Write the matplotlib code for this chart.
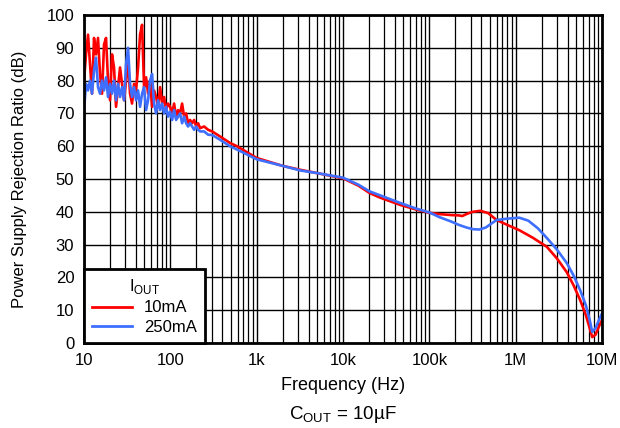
import numpy as np
import matplotlib
matplotlib.use('Agg')
import matplotlib.pyplot as plt
from matplotlib.lines import Line2D
from matplotlib.ticker import FixedLocator, LogLocator, NullFormatter

plt.rcParams['font.family'] = ['Liberation Sans', 'DejaVu Sans']

# low-frequency part, shared frequency points (Hz)
f_low = [10, 10.55, 11.13, 11.74, 12.38, 13.06, 13.77, 14.53, 15.33, 16.17,
         17.05, 17.99, 18.98, 20.02, 21.11, 22.27, 23.49, 24.78, 26.14, 27.58,
         29.09, 30.68, 32.37, 34.14, 36.01, 37.99, 40.07, 42.27, 44.59, 47.04,
         49.62, 52.34, 55.21, 58.24, 61.43, 64.8, 68.36, 72.1, 76.06, 80.23,
         84.63, 89.28, 94.17, 99.34, 104.8, 110.5, 116.6, 123, 129.7, 136.8,
         144.4, 152.3, 160.6, 169.4, 178.7, 188.5, 198.9, 209.8, 221.3, 246.2,
         274, 304.9]
psrr_10ma_low = [80, 88, 94, 85, 76, 93, 88, 93, 82, 76,
                 91, 93, 80, 74, 88, 84, 72, 78, 84, 79,
                 74, 80, 86, 76, 73, 79, 77, 84, 94, 97,
                 78, 81, 76, 80, 72, 77, 75, 72, 78, 73,
                 75, 71, 73, 72, 70, 73, 69, 71, 70, 73,
                 69, 70, 67, 68, 67, 68, 66, 67, 65.5, 66,
                 65, 64.5]
psrr_250ma_low = [71, 79, 77, 80, 76, 83, 87, 78, 76, 80,
                  77, 81, 75, 79, 76, 80, 74, 79, 75, 78,
                  74, 85, 90, 79, 75, 78, 74, 77, 72, 76,
                  78, 71, 74, 80, 82, 73, 70, 74, 71, 73,
                  70, 72, 69, 70.5, 68, 71, 68, 69, 70, 67,
                  69, 67, 66, 67, 66, 65, 66, 65, 64.5, 64.5,
                  63.5, 63.4]

# upper part, 10mA
f_10ma_high = [375, 490, 590, 1000, 2000, 3200, 5000, 10000, 15000, 20400,
               27000, 46000, 70000, 100000, 130000, 180000, 220000, 240000,
               280000, 320000, 390000, 480000, 600000, 800000, 1100000,
               1600000, 2300000, 3000000, 3900000, 4700000, 5600000, 6500000,
               7200000, 7700000, 8400000, 9200000, 10000000]
psrr_10ma_high = [63, 61, 60, 56.4, 54, 52.8, 51.8, 50.2, 48, 45.7,
                  44.3, 42.1, 40.7, 39.7, 39.3, 39, 38.9, 38.7,
                  39.5, 40, 40.3, 39.6, 37.5, 36, 34.4,
                  32, 29.3, 25.8, 21.6, 17.5, 13, 8.5,
                  4.5, 1.8, 2.5, 5, 7]

# upper part, 250mA
f_250ma_high = [375, 490, 590, 1000, 2000, 3200, 5000, 10000, 15000, 20400,
                27000, 46000, 70000, 100000, 130000, 180000, 220000, 270000,
                320000, 380000, 450000, 600000, 800000, 1100000, 1400000,
                1800000, 2300000, 3000000, 3900000, 4700000, 5600000, 6500000,
                7200000, 7700000, 8400000, 9200000, 10000000]
psrr_250ma_high = [62, 60, 59, 56, 54, 52.6, 51.8, 50.4, 48.3, 46.2,
                   45, 42.7, 41, 39.8, 38.4, 37, 36, 35.2,
                   34.7, 34.6, 35.2, 37.5, 37.9, 38.2, 37.3,
                   35, 32, 28.5, 24.4, 20.5, 16, 11.5,
                   7, 3.4, 4.5, 7, 9]

x_ticks = [10, 100, 1e3, 1e4, 1e5, 1e6, 1e7]
x_labels = ['10', '100', '1k', '10k', '100k', '1M', '10M']
y_ticks = [0, 10, 20, 30, 40, 50, 60, 70, 80, 90, 100]

red = '#ff0000'
blue = '#3f6fff'

fig = plt.figure(figsize=(6.2, 4.28), dpi=100)
ax = fig.add_axes([0.1355, 0.1986, 0.8355, 0.7664])

ax.semilogx(f_low + f_10ma_high, psrr_10ma_low + psrr_10ma_high,
            color=red, lw=1.9, zorder=3)
ax.semilogx(f_low + f_250ma_high, psrr_250ma_low + psrr_250ma_high,
            color=blue, lw=1.9, zorder=3)

ax.set_xlim(10, 1e7)
ax.set_ylim(0, 100)
ax.xaxis.set_major_locator(FixedLocator(x_ticks))
ax.set_xticklabels(x_labels)
ax.xaxis.set_minor_locator(LogLocator(base=10, subs=np.arange(2, 10)))
ax.xaxis.set_minor_formatter(NullFormatter())
ax.set_yticks(y_ticks)

ax.grid(True, which='major', axis='both', color='black', lw=1.0)
ax.grid(True, which='minor', axis='x', color='black', lw=0.9)
ax.tick_params(which='both', length=0, labelsize=12, pad=7)
for s in ax.spines.values():
    s.set_linewidth(2)
    s.set_zorder(5)

ax.set_xlabel('Frequency (Hz)', fontsize=13, labelpad=7)
ax.set_ylabel('Power Supply Rejection Ratio (dB)', fontsize=12, labelpad=14)

handles = [Line2D([], [], color=red, lw=2),
           Line2D([], [], color=blue, lw=2)]
leg = ax.legend(handles, ['10mA', '250mA'], title='I$_{\\mathregular{OUT}}$',
                loc='lower left', borderaxespad=0, fancybox=False,
                framealpha=1, edgecolor='black', fontsize=12,
                title_fontsize=12, handlelength=2.4, borderpad=0.5,
                labelspacing=0.25, handletextpad=0.7)
leg.get_frame().set_linewidth(2)
leg.set_zorder(6)

fig.text(0.553, 0.02, 'C$_{\\mathregular{OUT}}$ = 10µF', ha='center',
         fontsize=13.5)

fig.savefig('out.png', dpi=100)
